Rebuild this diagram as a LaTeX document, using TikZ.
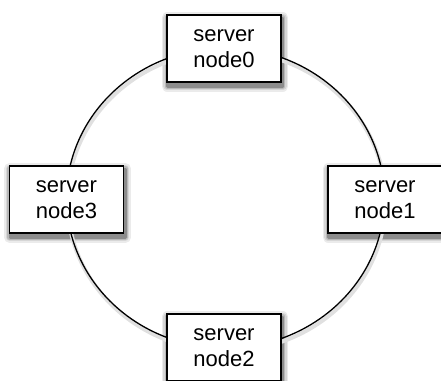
\documentclass[tikz,border=0pt]{standalone}
\usepackage{fontspec}
\setmainfont{Liberation Sans}
\usetikzlibrary{positioning,calc,backgrounds}

\tikzset{
    server/.style={draw, line width=1.5pt, fill=white, minimum width=114pt, minimum height=67pt,
        align=center, inner sep=0pt, font=\fontsize{22}{26.5}\selectfont},
    shadowlayer/.style={line join=round},
    ring/.style={line width=1.3pt},
    ringshadow/.style={line width=4pt, draw=black!12}
}

\begin{document}
\begin{tikzpicture}[x=1pt, y=-1pt]
    \useasboundingbox (0,0) rectangle (441,380);

    % Servers on the ring
    \node [server] (node0) at (224,48.5) {server\\node0};
    \node [server] (node1) at (385,199.5) {server\\node1};
    \node [server] (node2) at (224,347.5) {server\\node2};
    \node [server] (node3) at (66.5,199.5) {server\\node3};

    \begin{scope}[on background layer]
        % Soft shadows under the boxes
        \foreach \n in {node0,node1,node2,node3}
            \foreach \g/\w in {8/11, 16/8, 28/5, 45/2.5}
                \draw [shadowlayer, draw=black!\g, fill=black!\g, line width=\w pt]
                    ($(\n.north west)+(1,3.5)$) rectangle ($(\n.south east)+(1,3.5)$);
        % Ring
        \coordinate (ring) at (225.5,198);
        \draw [ringshadow] ($(ring)+(1,3)$) ellipse [x radius=159, y radius=150];
        \draw [ring] (ring) ellipse [x radius=159, y radius=150];
    \end{scope}
\end{tikzpicture}
\end{document}
